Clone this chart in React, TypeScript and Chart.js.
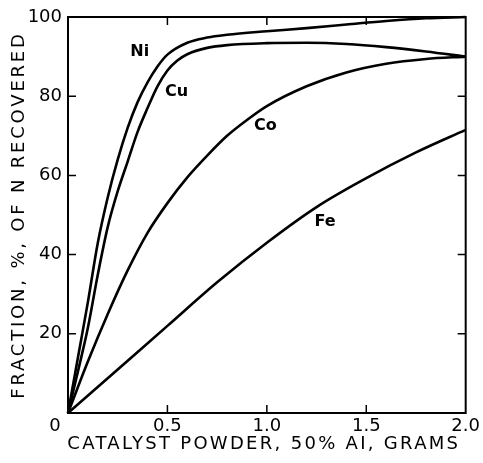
import React, { useEffect, useRef } from 'react';
import { Chart, registerables } from 'chart.js';

Chart.register(...registerables);

// ---- data ----
const xTicks = [0.5, 1.0, 1.5, 2.0];
const yTicks = [20, 40, 60, 80, 100];
const originLabel = '0';
const xTitle = 'CATALYST POWDER, 50% AI, GRAMS';
const yTitle = 'FRACTION, %, OF N RECOVERED';

const niX = [0, 0.05, 0.1, 0.15, 0.2, 0.25, 0.3, 0.35, 0.4, 0.45, 0.5, 0.6, 0.7, 0.8, 1.0, 1.2, 1.4, 1.6, 1.8, 2.0];
const niY = [0, 14, 28, 43, 54.5, 64, 72, 78.5, 83.5, 87.5, 90.5, 93.5, 94.8, 95.5, 96.4, 97.2, 98.1, 99, 99.7, 100];

const cuX = [0, 0.05, 0.1, 0.15, 0.2, 0.25, 0.3, 0.35, 0.4, 0.45, 0.5, 0.55, 0.6, 0.7, 0.8, 1.0, 1.2, 1.4, 1.6, 1.8, 2.0];
const cuY = [0, 10.5, 21.5, 35, 47, 56, 63.5, 71, 77, 82.5, 86.5, 89, 90.6, 92.2, 92.9, 93.4, 93.5, 93.2, 92.4, 91.3, 90];

const coX = [0, 0.1, 0.2, 0.3, 0.4, 0.5, 0.6, 0.7, 0.8, 0.9, 1.0, 1.2, 1.4, 1.6, 1.8, 2.0];
const coY = [0, 13, 25, 36, 45.5, 53, 59.5, 65, 70, 74, 77.5, 82.5, 86, 88.2, 89.4, 90];

const feX = [0, 0.25, 0.5, 0.75, 1.0, 1.25, 1.5, 1.75, 2.0];
const feY = [0, 11, 22, 33, 43, 52, 59.3, 65.8, 71.5];

const seriesNames = ['Ni', 'Cu', 'Co', 'Fe'];
const labelX = [0.361, 0.546, 0.992, 1.293];
const labelY = [91.2, 81, 72.5, 48.2];

const FONT = 'DejaVu Sans';

const toPts = (xs: number[], ys: number[]) => xs.map((x, i) => ({ x, y: ys[i] }));

const decor = {
  id: 'decor',
  afterDraw(chart: any) {
    const { ctx, chartArea } = chart;
    const { left, right, top, bottom } = chartArea;
    const xs = chart.scales.x;
    const ys = chart.scales.y;
    ctx.save();
    ctx.strokeStyle = '#000';
    ctx.fillStyle = '#000';
    // frame
    ctx.lineWidth = 2;
    ctx.strokeRect(left, top, right - left, bottom - top);
    // inward ticks
    ctx.lineWidth = 1.5;
    ctx.beginPath();
    xTicks.forEach((v) => {
      if (v >= 2) return;
      const px = xs.getPixelForValue(v);
      ctx.moveTo(px, bottom);
      ctx.lineTo(px, bottom - 8);
      ctx.moveTo(px, top);
      ctx.lineTo(px, top + 8);
    });
    yTicks.forEach((v) => {
      if (v >= 100) return;
      const py = ys.getPixelForValue(v);
      ctx.moveTo(left, py);
      ctx.lineTo(left + 8, py);
      ctx.moveTo(right, py);
      ctx.lineTo(right - 8, py);
    });
    ctx.stroke();
    // origin label
    ctx.font = `18px "${FONT}"`;
    ctx.textAlign = 'center';
    ctx.textBaseline = 'middle';
    ctx.fillText(originLabel, left - 13, bottom + 13);
    // curve labels
    ctx.font = `bold 16px "${FONT}"`;
    seriesNames.forEach((n, i) => {
      ctx.fillText(n, xs.getPixelForValue(labelX[i]), ys.getPixelForValue(labelY[i]));
    });
    // axis titles
    ctx.font = `18px "${FONT}"`;
    (ctx as any).letterSpacing = '2.3px';
    ctx.fillText(xTitle, (left + right) / 2 - 3, bottom + 31);
    ctx.translate(19, (top + bottom) / 2);
    ctx.rotate(-Math.PI / 2);
    (ctx as any).letterSpacing = '2.8px';
    ctx.fillText(yTitle, 0, 0);
    ctx.restore();
  },
};

export default function App() {
  const ref = useRef<HTMLCanvasElement | null>(null);
  useEffect(() => {
    if (!ref.current) return;
    const mk = (data: any[]) => ({
      data,
      borderColor: '#000',
      borderWidth: 2.6,
      pointRadius: 0,
      fill: false,
      cubicInterpolationMode: 'monotone' as const,
      clip: false as any,
    });
    const chart = new Chart(ref.current, {
      type: 'line',
      data: {
        datasets: [
          mk(toPts(niX, niY)),
          mk(toPts(cuX, cuY)),
          mk(toPts(coX, coY)),
          mk(toPts(feX, feY)),
        ],
      },
      options: {
        responsive: false,
        animation: false,
        devicePixelRatio: 1,
        layout: { padding: { left: 0, top: 17, right: 16, bottom: 0 } },
        plugins: { legend: { display: false }, tooltip: { enabled: false } },
        scales: {
          x: {
            type: 'linear',
            min: 0,
            max: 2,
            afterBuildTicks: (s: any) => {
              s.ticks = xTicks.map((v) => ({ value: v }));
            },
            afterFit: (s: any) => {
              s.height = 50;
            },
            ticks: {
              font: { family: FONT, size: 18 },
              color: '#000',
              padding: 3,
              maxRotation: 0,
              autoSkip: false,
              callback: (v: any) => Number(v).toFixed(1),
            },
            grid: { display: false, drawTicks: false },
            border: { display: false },
          },
          y: {
            type: 'linear',
            min: 0,
            max: 100,
            afterBuildTicks: (s: any) => {
              s.ticks = yTicks.map((v) => ({ value: v }));
            },
            afterFit: (s: any) => {
              s.width = 68;
            },
            ticks: {
              font: { family: FONT, size: 18 },
              color: '#000',
              padding: 6,
              autoSkip: false,
              callback: (v: any) => String(v),
            },
            grid: { display: false, drawTicks: false },
            border: { display: false },
          },
        },
      },
      plugins: [decor],
    });
    return () => chart.destroy();
  }, []);
  return (
    <div style={{ position: 'absolute', left: 0, top: 0, width: 483, height: 463, background: '#fff' }}>
      <canvas ref={ref} width={483} height={463} style={{ width: 483, height: 463 }} />
    </div>
  );
}
